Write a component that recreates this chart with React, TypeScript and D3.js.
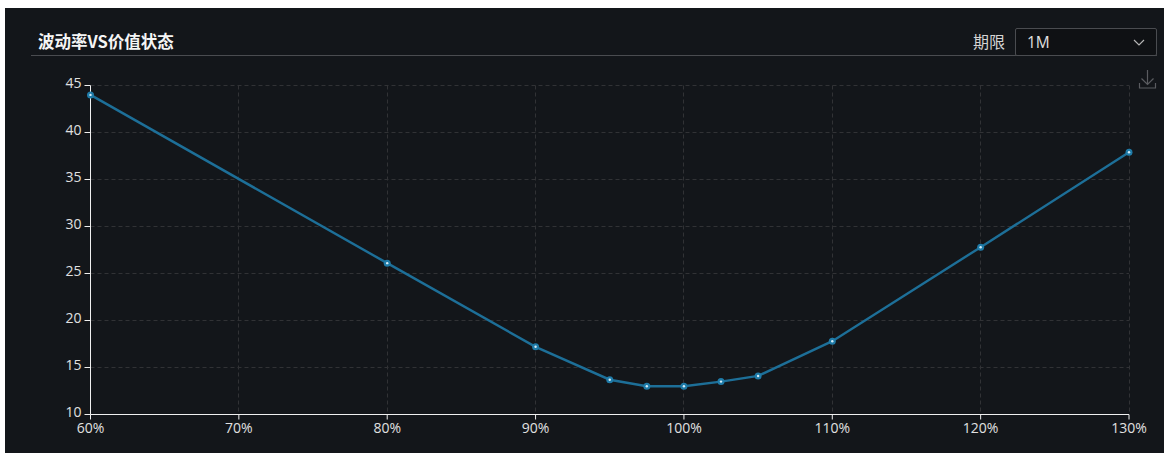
import { useEffect, useRef } from "react";
import * as d3 from "d3";

const strikes = [60, 80, 90, 95, 97.5, 100, 102.5, 105, 110, 120, 130];
const vols = [44, 26.1, 17.2, 13.7, 13, 13, 13.5, 14.1, 17.8, 27.8, 37.9];
const xTicks = [60, 70, 80, 90, 100, 110, 120, 130];
const yTicks = [10, 15, 20, 25, 30, 35, 40, 45];

const FONT = '"Noto Sans CJK SC", "Open Sans", sans-serif';

const App = () => {
  const svgRef = useRef<SVGSVGElement>(null);

  useEffect(() => {
    const svg = d3.select(svgRef.current);
    svg.selectAll("*").remove();

    svg.append("rect").attr("x", 5).attr("y", 8).attr("width", 1159).attr("height", 445).attr("fill", "#13161a");

    // header
    svg.append("text").attr("x", 38).attr("y", 48).attr("fill", "#f5f5f5")
      .attr("font-size", 16.5).attr("font-weight", 700).attr("font-family", FONT).text("波动率VS价值状态");
    svg.append("line").attr("x1", 31).attr("x2", 1157).attr("y1", 55.5).attr("y2", 55.5).attr("stroke", "#4a4c50");
    svg.append("text").attr("x", 973).attr("y", 48).attr("fill", "#d4d4d4")
      .attr("font-size", 16).attr("font-family", FONT).text("期限");

    // select box
    svg.append("rect").attr("x", 1015.5).attr("y", 28.5).attr("width", 141).attr("height", 27).attr("rx", 1.5)
      .attr("fill", "#0f1114").attr("stroke", "#4a4c50");
    svg.append("text").attr("x", 1027).attr("y", 48).attr("fill", "#e0e0e0")
      .attr("font-size", 15.5).attr("font-family", '"Open Sans", sans-serif').text("1M");
    svg.append("path").attr("d", "M1134 40L1139 45L1144 40").attr("fill", "none").attr("stroke", "#b5b5b5").attr("stroke-width", 1.2);

    // download icon
    svg.append("path").attr("d", "M1147.5 70V84M1141.5 78.5L1147.5 84.5L1153.5 78.5M1139.5 83V88H1155.5V83")
      .attr("fill", "none").attr("stroke", "#5a5c60").attr("stroke-width", 1.2);

    const x = d3.scaleLinear().domain([60, 130]).range([90.5, 1129]);
    const y = d3.scaleLinear().domain([10, 45]).range([414.5, 85.5]);

    const gridColor = "#313235";
    svg.append("g").selectAll("line").data(xTicks.slice(1)).join("line")
      .attr("x1", (d) => Math.floor(x(d)) + 0.5).attr("x2", (d) => Math.floor(x(d)) + 0.5).attr("y1", y(45)).attr("y2", y(10))
      .attr("stroke", gridColor).attr("stroke-dasharray", "4 3");
    svg.append("g").selectAll("line").data(yTicks.slice(1)).join("line")
      .attr("x1", x(60)).attr("x2", x(130)).attr("y1", (d) => Math.floor(y(d)) + 0.5).attr("y2", (d) => Math.floor(y(d)) + 0.5)
      .attr("stroke", gridColor).attr("stroke-dasharray", "4 3");

    const xAxis = svg.append("g").attr("transform", `translate(0,${y(10)})`)
      .call(d3.axisBottom(x).tickValues(xTicks).tickFormat((d) => `${d}%`).tickSize(5).tickSizeOuter(0).offset(0));
    const yAxis = svg.append("g").attr("transform", `translate(${x(60)},0)`)
      .call(d3.axisLeft(y).tickValues(yTicks).tickSize(6).tickSizeOuter(0).offset(0));

    [xAxis, yAxis].forEach((a) => {
      a.selectAll("path,line").attr("stroke", "#f0f0f0");
      a.selectAll("text").attr("fill", "#e0e0e0").attr("font-size", 14).attr("font-family", '"Open Sans", sans-serif');
    });
    xAxis.selectAll("text").attr("dy", "0.6em").attr("y", 10);
    yAxis.selectAll("text").attr("x", -9).attr("dy", "0.15em");

    const line = d3.line<number>().x((d) => x(d)).y((_, i) => y(vols[i]));
    svg.append("path").datum(strikes).attr("d", line).attr("fill", "none").attr("stroke", "#1d6f98").attr("stroke-width", 2.4);

    const dots = svg.append("g").selectAll("g").data(strikes).join("g")
      .attr("transform", (d, i) => `translate(${x(d)},${y(vols[i])})`);
    dots.append("circle").attr("r", 3.5).attr("fill", "#1f7ba8");
    dots.append("circle").attr("r", 1.2).attr("fill", "#d5ecf7");
  }, []);

  return (
    <svg
      ref={svgRef}
      width={1164}
      height={456}
      style={{ position: "fixed", left: 0, top: 0, background: "#fff" }}
    />
  );
};

export default App;
